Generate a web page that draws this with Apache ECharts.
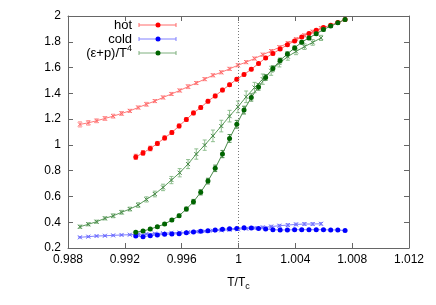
<!DOCTYPE html>
<html><head><meta charset="utf-8">
<script src="https://cdn.jsdelivr.net/npm/echarts@6/dist/echarts.min.js"></script>
<style>html,body{margin:0;padding:0;background:#fff}#c{width:436px;height:305px}</style>
</head><body><div id="c"></div>
<script>
// x tick labels
const xTicks = [0.988, 0.992, 0.996, 1, 1.004, 1.008, 1.012];
const yTicks = [0.2, 0.4, 0.6, 0.8, 1, 1.2, 1.4, 1.6, 1.8, 2];

// T/Tc for the "x" (cross) series
const tCross = [0.98884,0.98943,0.99001,0.9906,0.99118,0.99177,0.99235,0.99294,0.99352,0.99411,
  0.99469,0.99528,0.99586,0.99645,0.99703,0.99762,0.9982,0.99879,0.99937,0.99996,
  1.00054,1.00113,1.00171,1.0023,1.00288,1.00347,1.00405,1.00464,1.00522,1.00581];
// T/Tc for the dot series
const tDot = [0.99277,0.99328,0.99379,0.99429,0.9948,0.99531,0.99582,0.99633,0.99683,0.99734,
  0.99785,0.99836,0.99887,0.99937,0.99988,1.00039,1.0009,1.00141,1.00191,1.00242,
  1.00293,1.00344,1.00395,1.00445,1.00496,1.00547,1.00598,1.00649,1.00699,1.0075];

// hot (crosses)
const hotCross = [1.159,1.171,1.187,1.205,1.223,1.244,1.264,1.29,1.315,1.34,
  1.368,1.395,1.422,1.452,1.48,1.51,1.54,1.563,1.59,1.618,
  1.642,1.67,1.7,1.728,1.758,1.79,1.82,1.85,1.878,1.905];
const hotCrossErr = [0.02,0.018,0.015,0.015,0.015,0.015,0.012,0.012,0.015,0.012,
  0.012,0.012,0.012,0.015,0.012,0.012,0.012,0.012,0.012,0.012,
  0.012,0.012,0.012,0.012,0.012,0.012,0.012,0.012,0.012,0.012];
// cold (crosses)
const coldCross = [0.283,0.288,0.293,0.295,0.298,0.301,0.303,0.306,0.309,0.312,
  0.315,0.318,0.32,0.323,0.327,0.33,0.334,0.337,0.341,0.345,
  0.35,0.355,0.36,0.366,0.373,0.378,0.383,0.386,0.386,0.388];
const coldCrossErr = [0.005,0.005,0.005,0.005,0.005,0.005,0.005,0.005,0.005,0.005,
  0.005,0.005,0.005,0.006,0.006,0.006,0.006,0.006,0.007,0.007,
  0.008,0.008,0.009,0.01,0.01,0.01,0.01,0.01,0.01,0.01];
// (e+p)/T^4 (crosses)
const epCross = [0.365,0.384,0.404,0.43,0.45,0.477,0.502,0.533,0.577,0.619,
  0.67,0.727,0.784,0.851,0.929,0.998,1.07,1.146,1.223,1.295,
  1.373,1.445,1.51,1.575,1.635,1.685,1.725,1.762,1.795,1.83];
const epCrossErr = [0.012,0.012,0.012,0.012,0.015,0.015,0.015,0.018,0.02,0.022,
  0.025,0.028,0.032,0.035,0.04,0.04,0.045,0.045,0.045,0.045,
  0.045,0.04,0.04,0.035,0.03,0.028,0.025,0.022,0.022,0.02];

// hot (dots)
const hotDot = [0.907,0.938,0.972,1.011,1.054,1.096,1.147,1.197,1.248,1.29,
  1.339,1.38,1.425,1.466,1.51,1.546,1.587,1.631,1.675,1.709,
  1.743,1.776,1.807,1.838,1.864,1.89,1.911,1.929,1.95,1.972];
const hotDotErr = [0.02,0.018,0.018,0.016,0.016,0.015,0.015,0.015,0.015,0.015,
  0.014,0.014,0.014,0.013,0.013,0.012,0.012,0.012,0.012,0.012,
  0.011,0.011,0.01,0.01,0.01,0.01,0.01,0.01,0.01,0.01];
// cold (dots)
const coldDot = [0.293,0.288,0.295,0.301,0.306,0.309,0.311,0.319,0.324,0.329,
  0.334,0.34,0.345,0.35,0.352,0.357,0.355,0.352,0.347,0.342,
  0.34,0.34,0.342,0.342,0.342,0.342,0.342,0.34,0.34,0.335];
const coldDotErr = [0.006,0.006,0.006,0.006,0.006,0.006,0.006,0.006,0.006,0.006,
  0.006,0.006,0.006,0.006,0.006,0.006,0.006,0.006,0.006,0.006,
  0.006,0.006,0.006,0.006,0.006,0.006,0.006,0.006,0.006,0.006];
// (e+p)/T^4 (dots)
const epDot = [0.322,0.332,0.347,0.365,0.386,0.417,0.45,0.502,0.559,0.632,
  0.719,0.818,0.929,1.05,1.16,1.27,1.368,1.45,1.523,1.593,
  1.655,1.706,1.752,1.797,1.83,1.862,1.895,1.922,1.947,1.972];
const epDotErr = [0.008,0.008,0.008,0.01,0.01,0.012,0.012,0.015,0.018,0.02,
  0.022,0.025,0.028,0.03,0.03,0.03,0.028,0.025,0.022,0.02,
  0.018,0.016,0.015,0.014,0.013,0.012,0.012,0.011,0.01,0.01];

const legendNames = ['hot', 'cold', '(ε+p)/T{sup|4}'];

const FONT = 'Liberation Sans';
const crossPath = 'path://M0,0L10,10M10,0L0,10';

function pairs(xs, ys) { return xs.map((x, i) => [x, ys[i]]); }
function errData(xs, ys, es) { return xs.map((x, i) => [x, ys[i] - es[i], ys[i] + es[i]]); }

function errSeries(xs, ys, es, color, z) {
  return {
    type: 'custom', z: z, silent: true,
    data: errData(xs, ys, es),
    renderItem: function (params, api) {
      const lo = api.coord([api.value(0), api.value(1)]);
      const hi = api.coord([api.value(0), api.value(2)]);
      const w = 2;
      const st = { stroke: color, lineWidth: 1 };
      return { type: 'group', children: [
        { type: 'line', shape: { x1: lo[0], y1: lo[1], x2: hi[0], y2: hi[1] }, style: st },
        { type: 'line', shape: { x1: lo[0] - w, y1: lo[1], x2: lo[0] + w, y2: lo[1] }, style: st },
        { type: 'line', shape: { x1: hi[0] - w, y1: hi[1], x2: hi[0] + w, y2: hi[1] }, style: st }
      ]};
    }
  };
}
function crossLine(xs, ys, lineColor, symColor, z) {
  return {
    type: 'line', z: z, data: pairs(xs, ys), symbol: crossPath, symbolSize: 4,
    showAllSymbol: true, animation: false,
    lineStyle: { color: lineColor, width: 1 },
    itemStyle: { color: 'none', borderColor: symColor, borderWidth: 1 }
  };
}
function dotLine(xs, ys, lineColor, symColor, z) {
  return {
    type: 'line', z: z, data: pairs(xs, ys), symbol: 'circle', symbolSize: 5,
    showAllSymbol: true, animation: false,
    lineStyle: { color: lineColor, width: 1 },
    itemStyle: { color: symColor, borderWidth: 0 }
  };
}

const axisCol = '#666';
const fmt = v => String(+(+v).toFixed(3));

const chart = echarts.init(document.getElementById('c'), null, { renderer: 'canvas' });

const legendItems = [
  { line: '#ff6a6a', dot: '#ff0000' },
  { line: '#8080ff', dot: '#0000ff' },
  { line: '#7fb07f', dot: '#006400' }
];
const graphics = [];
legendItems.forEach((it, i) => {
  const y = 25 + i * 14;
  graphics.push({ type: 'text', left: null, x: 132, y: y, style: {
    text: legendNames[i], font: '13px "' + FONT + '"', fill: '#000', align: 'right', verticalAlign: 'middle',
    rich: { sup: { fontSize: 9, fontFamily: FONT, padding: [0, 0, 9, 0] } } } });
  graphics.push({ type: 'line', shape: { x1: 139, y1: y, x2: 176, y2: y }, style: { stroke: it.line, lineWidth: 1 } });
  graphics.push({ type: 'line', shape: { x1: 139, y1: y - 2, x2: 139, y2: y + 2 }, style: { stroke: it.line, lineWidth: 1 } });
  graphics.push({ type: 'line', shape: { x1: 176, y1: y - 2, x2: 176, y2: y + 2 }, style: { stroke: it.line, lineWidth: 1 } });
  graphics.push({ type: 'circle', shape: { cx: 158, cy: y, r: 2.5 }, style: { fill: it.dot } });
});

const xBase = { type: 'value', min: 0.988, max: 1.012, interval: 0.004, splitLine: { show: false },
  axisLine: { show: true, onZero: false, lineStyle: { color: axisCol, width: 1 } },
  axisTick: { show: true, inside: true, length: 5, lineStyle: { color: axisCol } } };
const yBase = { type: 'value', min: 0.2, max: 2, interval: 0.2, splitLine: { show: false },
  axisLine: { show: true, onZero: false, lineStyle: { color: axisCol, width: 1 } },
  axisTick: { show: true, inside: true, length: 5, lineStyle: { color: axisCol } } };

chart.setOption({
  animation: false,
  backgroundColor: '#fff',
  grid: { left: 68, top: 16, width: 341, height: 232 },
  xAxis: [
    Object.assign({}, xBase, { position: 'bottom',
      axisLabel: { color: '#000', fontFamily: FONT, fontSize: 12, margin: 6, formatter: fmt, showMinLabel: true, showMaxLabel: true },
      name: 'T/T{sub|c}', nameLocation: 'middle', nameGap: 27,
      nameTextStyle: { color: '#000', fontFamily: FONT, fontSize: 12,
        rich: { sub: { fontSize: 9, fontFamily: FONT, padding: [7, 0, 0, 0] } } } }),
    Object.assign({}, xBase, { position: 'top', axisLabel: { show: false } })
  ],
  yAxis: [
    Object.assign({}, yBase, { position: 'left',
      axisLabel: { color: '#000', fontFamily: FONT, fontSize: 12, margin: 7, formatter: fmt, showMinLabel: true, showMaxLabel: true } }),
    Object.assign({}, yBase, { position: 'right', axisLabel: { show: false } })
  ],
  graphic: graphics,
  series: [
    Object.assign(crossLine(tCross, hotCross, '#ff7a7a', '#ff6a6a', 2), {
      markLine: { silent: true, symbol: 'none', label: { show: false },
        lineStyle: { type: [1, 2], color: '#777', width: 1 }, data: [{ xAxis: 1 }] } }),
    errSeries(tCross, hotCross, hotCrossErr, '#ff9a9a', 1),
    crossLine(tCross, coldCross, '#8080ff', '#6a6aff', 2),
    errSeries(tCross, coldCross, coldCrossErr, '#9a9aff', 1),
    crossLine(tCross, epCross, '#5a9a5a', '#4a8a4a', 2),
    errSeries(tCross, epCross, epCrossErr, '#8fbf8f', 1),
    dotLine(tDot, hotDot, '#ff6a6a', '#ff0000', 4),
    errSeries(tDot, hotDot, hotDotErr, '#ff6a6a', 3),
    dotLine(tDot, coldDot, '#8080ff', '#0000ff', 4),
    errSeries(tDot, coldDot, coldDotErr, '#8080ff', 3),
    dotLine(tDot, epDot, '#4a8a4a', '#006400', 6),
    errSeries(tDot, epDot, epDotErr, '#4a8a4a', 5)
  ]
});
</script></body></html>
